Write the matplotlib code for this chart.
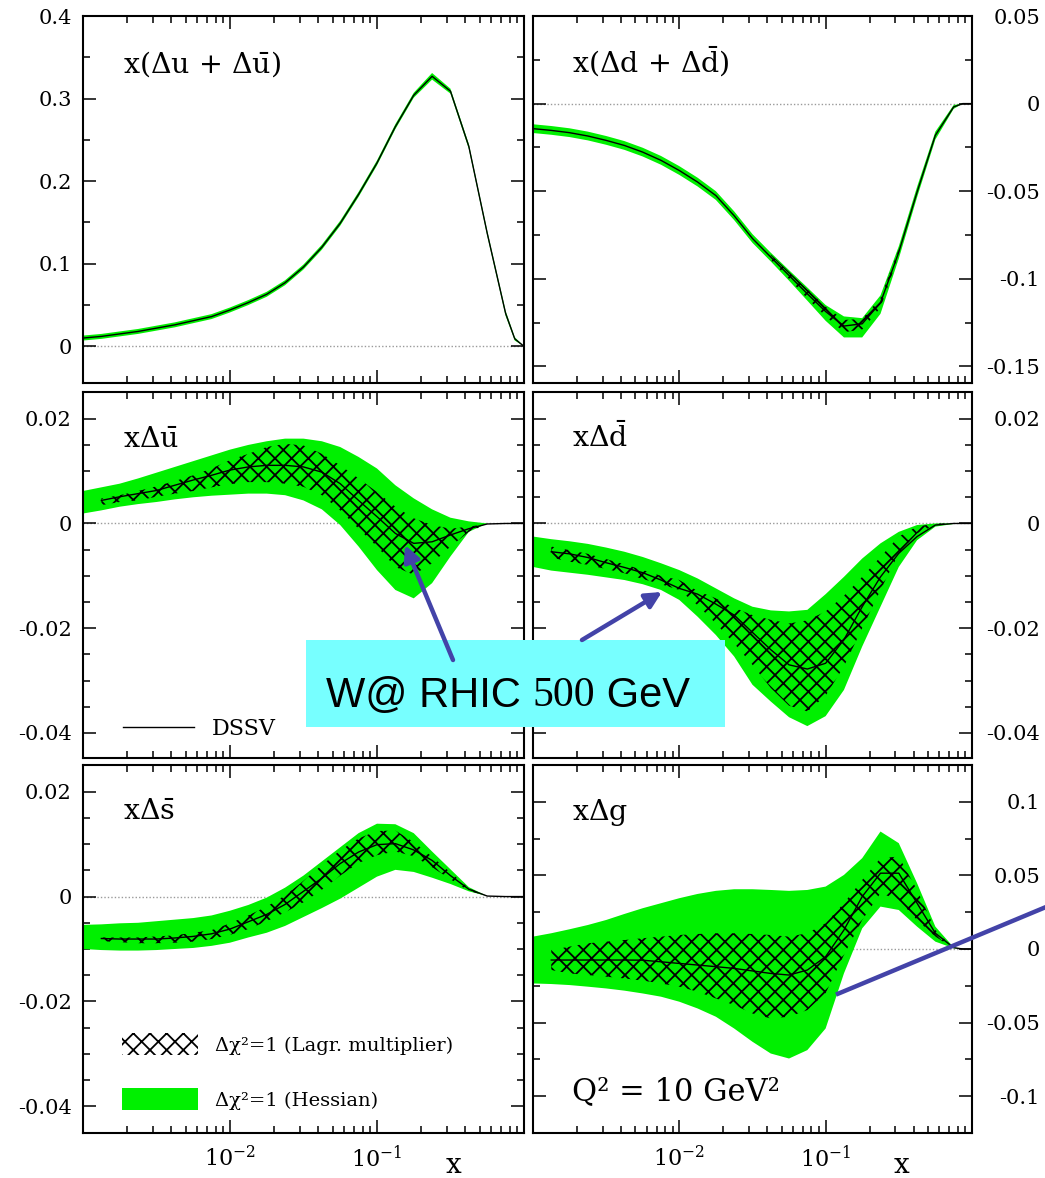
import numpy as np
import matplotlib
matplotlib.use("Agg")
import matplotlib.pyplot as plt
from matplotlib.patches import Patch, Rectangle, FancyArrowPatch
from matplotlib.lines import Line2D
from matplotlib.ticker import LogLocator, NullFormatter

plt.rcParams['font.family'] = ['DejaVu Serif']
plt.rcParams['mathtext.fontset'] = 'custom'
plt.rcParams['mathtext.rm'] = 'DejaVu Serif'
plt.rcParams['mathtext.it'] = 'DejaVu Serif:italic'
plt.rcParams['hatch.linewidth'] = 1.3

nan = np.nan

# x grid shared by all curves (log steps of 1/8 decade)
x_grid = [0.001, 0.001334, 0.001778, 0.002371, 0.003162, 0.004217, 0.005623, 0.007499,
          0.01, 0.01334, 0.01778, 0.02371, 0.03162, 0.04217, 0.05623, 0.07499,
          0.1, 0.1334, 0.1778, 0.2371, 0.3162, 0.4217, 0.5623, 0.7499, 0.8660, 1.0]

# x(Δu + Δū)
uplus_c = [0.010, 0.012, 0.015, 0.018, 0.022, 0.026, 0.031, 0.036, 0.044, 0.053, 0.063, 0.077, 0.096,
           0.120, 0.149, 0.184, 0.222, 0.266, 0.304, 0.327, 0.309, 0.242, 0.137, 0.040, 0.009, 0.0]
uplus_hi = [0.013, 0.015, 0.018, 0.021, 0.025, 0.029, 0.034, 0.039, 0.047, 0.056, 0.066, 0.080, 0.099,
            0.123, 0.152, 0.187, 0.225, 0.269, 0.307, 0.331, 0.312, 0.245, 0.140, 0.043, 0.011, 0.0]
uplus_lo = [0.007, 0.009, 0.012, 0.015, 0.019, 0.023, 0.028, 0.033, 0.041, 0.050, 0.060, 0.074, 0.093,
            0.117, 0.146, 0.181, 0.219, 0.263, 0.301, 0.323, 0.306, 0.239, 0.134, 0.037, 0.007, 0.0]

# x(Δd + Δd̄)
dplus_c = [-0.0143, -0.0153, -0.0166, -0.0185, -0.0210, -0.0239, -0.0277, -0.0324, -0.0382, -0.0448,
           -0.0525, -0.0640, -0.0770, -0.0876, -0.0981, -0.1086, -0.1187, -0.1270, -0.1257, -0.1137,
           -0.0848, -0.0505, -0.0181, -0.0019, 0.0, 0.0]
dplus_hi = [-0.0118, -0.0128, -0.0141, -0.0160, -0.0185, -0.0214, -0.0252, -0.0299, -0.0357, -0.0423,
            -0.0500, -0.0615, -0.0745, -0.0851, -0.0951, -0.1050, -0.1150, -0.1215, -0.1225, -0.1095,
            -0.0815, -0.0475, -0.0160, -0.0008, 0.0, 0.0]
dplus_lo = [-0.0168, -0.0178, -0.0191, -0.0210, -0.0235, -0.0264, -0.0302, -0.0349, -0.0407, -0.0473,
            -0.0550, -0.0665, -0.0795, -0.0901, -0.1011, -0.1125, -0.1240, -0.1335, -0.1335, -0.1200,
            -0.0885, -0.0535, -0.0205, -0.0030, 0.0, 0.0]
dplus_lag_hi = [nan, nan, nan, nan, nan, nan, nan, nan, nan, nan, nan, nan, nan,
                -0.0861, -0.0961, -0.1060, -0.1160, -0.1235, -0.1230, -0.1110, -0.0830,
                nan, nan, nan, nan, nan]
dplus_lag_lo = [nan, nan, nan, nan, nan, nan, nan, nan, nan, nan, nan, nan, nan,
                -0.0891, -0.1001, -0.1112, -0.1214, -0.1305, -0.1290, -0.1165, -0.0865,
                nan, nan, nan, nan, nan]

# xΔū
ubar_c = [nan, 0.0044, 0.0051, 0.0057, 0.0063, 0.0073, 0.0083, 0.0092, 0.0102, 0.0108, 0.0111, 0.0111,
          0.0108, 0.0098, 0.0076, 0.0044, 0.0013, -0.0019, -0.0038, -0.0035, -0.0022, -0.0010,
          -0.0001, 0.0, 0.0, 0.0]
ubar_hess_hi = [0.0062, 0.0069, 0.0076, 0.0086, 0.0097, 0.0108, 0.0119, 0.0130, 0.0141, 0.0150, 0.0157,
                0.0162, 0.0162, 0.0157, 0.0146, 0.0127, 0.0105, 0.0073, 0.0048, 0.0027, 0.0011, 0.0004,
                0.0, 0.0, 0.0, 0.0]
ubar_hess_lo = [0.0019, 0.0025, 0.0032, 0.0037, 0.0041, 0.0046, 0.0050, 0.0053, 0.0055, 0.0057, 0.0057,
                0.0054, 0.0044, 0.0027, -0.0003, -0.0044, -0.0089, -0.0127, -0.0143, -0.0114, -0.0063,
                -0.0016, 0.0, 0.0, 0.0, 0.0]
ubar_lag_hi = [nan, 0.0048, 0.0054, 0.0062, 0.0071, 0.0081, 0.0092, 0.0105, 0.0121, 0.0133, 0.0146,
               0.0152, 0.0149, 0.0133, 0.0111, 0.0086, 0.0060, 0.0032, 0.0010, -0.0003, -0.0010, -0.0006,
               -0.0001, 0.0, 0.0, 0.0]
ubar_lag_lo = [nan, 0.0035, 0.0041, 0.0044, 0.0051, 0.0057, 0.0062, 0.0069, 0.0075, 0.0079, 0.0079,
               0.0076, 0.0070, 0.0054, 0.0025, -0.0010, -0.0044, -0.0083, -0.0098, -0.0076, -0.0044,
               -0.0016, -0.0001, 0.0, 0.0, 0.0]

# xΔd̄
dbar_c = [nan, -0.0054, -0.0058, -0.0065, -0.0075, -0.0084, -0.0094, -0.0108, -0.0124, -0.0135, -0.0154,
          -0.0175, -0.0208, -0.0241, -0.0270, -0.0278, -0.0267, -0.0222, -0.0159, -0.0102, -0.0057,
          -0.0025, -0.0003, 0.0, 0.0, 0.0]
dbar_hess_hi = [-0.0025, -0.0030, -0.0034, -0.0039, -0.0046, -0.0054, -0.0064, -0.0076, -0.0089, -0.0105,
                -0.0124, -0.0143, -0.0159, -0.0166, -0.0168, -0.0165, -0.0135, -0.0102, -0.0067, -0.0038,
                -0.0016, -0.0003, 0.0, 0.0, 0.0, 0.0]
dbar_hess_lo = [-0.0083, -0.0090, -0.0094, -0.0098, -0.0103, -0.0108, -0.0116, -0.0127, -0.0146, -0.0178,
                -0.0213, -0.0254, -0.0308, -0.0340, -0.0370, -0.0387, -0.0368, -0.0318, -0.0235, -0.0159,
                -0.0083, -0.0032, -0.0006, -0.0001, 0.0, 0.0]
dbar_lag_hi = [nan, -0.0044, -0.0051, -0.0058, -0.0068, -0.0078, -0.0089, -0.0100, -0.0108, -0.0129,
               -0.0143, -0.0161, -0.0175, -0.0184, -0.0191, -0.0185, -0.0168, -0.0138, -0.0102, -0.0064,
               -0.0025, -0.0006, 0.0, 0.0, 0.0, 0.0]
dbar_lag_lo = [nan, -0.0065, -0.0073, -0.0079, -0.0087, -0.0095, -0.0106, -0.0116, -0.0127, -0.0156,
               -0.0191, -0.0229, -0.0270, -0.0314, -0.0348, -0.0359, -0.0329, -0.0273, -0.0200, -0.0127,
               -0.0057, -0.0019, -0.0003, 0.0, 0.0, 0.0]

# xΔs̄
sbar_c = [nan, -0.0080, -0.0081, -0.0081, -0.0081, -0.0079, -0.0076, -0.0071, -0.0062, -0.0048, -0.0034,
          -0.0015, 0.0010, 0.0035, 0.0063, 0.0085, 0.0099, 0.0101, 0.0089, 0.0069, 0.0040, 0.0014,
          0.0001, 0.0, 0.0, 0.0]
sbar_hess_hi = [-0.0054, -0.0053, -0.0051, -0.0050, -0.0047, -0.0044, -0.0041, -0.0036, -0.0027, -0.0016,
                -0.0002, 0.0017, 0.0040, 0.0067, 0.0094, 0.0121, 0.0139, 0.0138, 0.0121, 0.0086, 0.0052,
                0.0018, 0.0001, 0.0, 0.0, 0.0]
sbar_hess_lo = [-0.0100, -0.0102, -0.0103, -0.0103, -0.0102, -0.0100, -0.0098, -0.0094, -0.0088, -0.0078,
                -0.0069, -0.0056, -0.0039, -0.0022, -0.0004, 0.0017, 0.0038, 0.0051, 0.0047, 0.0036,
                0.0024, 0.0010, 0.0001, 0.0, 0.0, 0.0]
sbar_lag_hi = [nan, -0.0078, -0.0078, -0.0078, -0.0076, -0.0074, -0.0069, -0.0064, -0.0051, -0.0036,
               -0.0019, 0.0002, 0.0030, 0.0060, 0.0088, 0.0111, 0.0125, 0.0126, 0.0104, 0.0076, 0.0046,
               0.0016, 0.0001, 0.0, 0.0, 0.0]
sbar_lag_lo = [nan, -0.0085, -0.0087, -0.0089, -0.0089, -0.0088, -0.0086, -0.0081, -0.0073, -0.0062,
               -0.0047, -0.0030, -0.0011, 0.0013, 0.0040, 0.0064, 0.0079, 0.0086, 0.0077, 0.0056, 0.0033,
               0.0011, 0.0001, 0.0, 0.0, 0.0]

# xΔg
g_c = [nan, -0.0075, -0.0075, -0.0075, -0.0075, -0.0075, -0.0076, -0.0087, -0.0098, -0.0109, -0.0120,
       -0.0132, -0.0149, -0.0166, -0.0177, -0.0143, -0.0052, 0.0129, 0.0356, 0.0515, 0.0515, 0.0311,
       0.0107, 0.0009, 0.0, 0.0]
g_hess_hi = [0.0084, 0.0107, 0.0134, 0.0163, 0.0197, 0.0238, 0.0277, 0.0311, 0.0345, 0.0374, 0.0395,
             0.0406, 0.0406, 0.0401, 0.0395, 0.0401, 0.0424, 0.0503, 0.0617, 0.0798, 0.0719, 0.0447,
             0.0152, 0.0011, 0.0, 0.0]
g_hess_lo = [-0.0234, -0.0238, -0.0245, -0.0256, -0.0268, -0.0283, -0.0302, -0.0324, -0.0358, -0.0404,
             -0.0460, -0.0540, -0.0630, -0.0710, -0.0744, -0.0687, -0.0540, -0.0166, 0.0140, 0.0288,
             0.0265, 0.0152, 0.0050, 0.0005, 0.0, 0.0]
g_lag_hi = [nan, -0.0007, 0.0016, 0.0039, 0.0050, 0.0061, 0.0073, 0.0084, 0.0095, 0.0102, 0.0107,
            0.0107, 0.0102, 0.0095, 0.0084, 0.0107, 0.0175, 0.0311, 0.0469, 0.0617, 0.0628, 0.0401,
            0.0129, 0.0005, 0.0, 0.0]
g_lag_lo = [nan, -0.0143, -0.0166, -0.0177, -0.0188, -0.0200, -0.0215, -0.0234, -0.0256, -0.0290, -0.0336,
            -0.0381, -0.0438, -0.0472, -0.0460, -0.0415, -0.0300, -0.0040, 0.0197, 0.0379, 0.0333,
            0.0197, 0.0084, 0.0005, 0.0, 0.0]

# axis ticks
big_ticks = [0, 0.1, 0.2, 0.3, 0.4]
big_labels = ['0', '0.1', '0.2', '0.3', '0.4']
big_minor = [0.05, 0.15, 0.25, 0.35]
d_ticks = [-0.15, -0.1, -0.05, 0, 0.05]
d_labels = ['-0.15', '-0.1', '-0.05', '0', '0.05']
d_minor = [-0.125, -0.075, -0.025, 0.025]
sea_ticks = [-0.04, -0.02, 0, 0.02]
sea_labels = ['-0.04', '-0.02', '0', '0.02']
sea_minor = [-0.035, -0.03, -0.025, -0.015, -0.01, -0.005, 0.005, 0.01, 0.015]
g_ticks = [-0.1, -0.05, 0, 0.05, 0.1]
g_labels = ['-0.1', '-0.05', '0', '0.05', '0.1']
g_minor = [-0.075, -0.025, 0.025, 0.075]
x_ticks = [1e-2, 1e-1]
x_labels = [r'$\mathdefault{10^{-2}}$', r'$\mathdefault{10^{-1}}$']

green = '#00f000'

fig = plt.figure(figsize=(10.45, 11.78), dpi=100)

col_x = [0.0794, 0.5100]
col_w = [0.4220, 0.4201]
row_y = [0.6749, 0.3565, 0.0382]
row_h = [0.3115, 0.3107, 0.3124]


def make_axes(row, col, ylim, ticks, labels, minor):
    ax = fig.add_axes([col_x[col], row_y[row], col_w[col], row_h[row]])
    ax.set_xscale('log')
    ax.set_xlim(1e-3, 1)
    ax.set_ylim(*ylim)
    ax.set_xticks(x_ticks)
    ax.xaxis.set_minor_locator(LogLocator(base=10, subs=np.arange(2, 10) * 1.0, numticks=20))
    ax.xaxis.set_minor_formatter(NullFormatter())
    ax.set_yticks(ticks)
    ax.set_yticklabels(labels)
    ax.set_yticks(minor, minor=True)
    ax.tick_params(which='both', direction='in', top=True, bottom=True, left=True, right=True,
                   width=1.1, labelsize=15)
    ax.tick_params(which='major', length=9.5)
    ax.tick_params(which='minor', length=5)
    for sp in ax.spines.values():
        sp.set_linewidth(1.5)
    if row == 2:
        ax.set_xticklabels(x_labels, fontsize=16)
        ax.tick_params(axis='x', pad=9)
        ax.text(0.84, -0.088, 'x', transform=ax.transAxes, ha='center', va='center', fontsize=20)
    else:
        ax.tick_params(axis='x', labelbottom=False)
    if col == 1:
        ax.tick_params(axis='y', labelleft=False, labelright=True, pad=49)
        for t in ax.get_yticklabels():
            t.set_horizontalalignment('right')
    else:
        ax.tick_params(axis='y', pad=8)
    ax.axhline(0, color='#9a9a9a', lw=1.0, ls=(0, (1, 1.5)), zorder=1)
    return ax


def draw_pdf(ax, central, hess_lo, hess_hi, lag_lo=None, lag_hi=None):
    ax.fill_between(x_grid, hess_lo, hess_hi, facecolor=green, edgecolor='none', lw=0, zorder=2)
    if lag_lo is not None:
        ax.fill_between(x_grid, lag_lo, lag_hi, facecolor='none', edgecolor='black',
                        hatch='xx', lw=0, zorder=3)
    ax.plot(x_grid, central, color='black', lw=1.0, zorder=4)


ax_u = make_axes(0, 0, (-0.0444, 0.4), big_ticks, big_labels, big_minor)
draw_pdf(ax_u, uplus_c, uplus_lo, uplus_hi)
ax_u.text(0.09, 0.846, r'x($\Delta$u + $\Delta\bar{\mathrm{u}}$)', transform=ax_u.transAxes,
          fontsize=20.5, va='baseline')

ax_d = make_axes(0, 1, (-0.1595, 0.05), d_ticks, d_labels, d_minor)
draw_pdf(ax_d, dplus_c, dplus_lo, dplus_hi, dplus_lag_lo, dplus_lag_hi)
ax_d.text(0.089, 0.846, r'x($\Delta$d + $\Delta\bar{\mathrm{d}}$)', transform=ax_d.transAxes,
          fontsize=20.5, va='baseline')

ax_ub = make_axes(1, 0, (-0.0448, 0.0251), sea_ticks, sea_labels, sea_minor)
draw_pdf(ax_ub, ubar_c, ubar_hess_lo, ubar_hess_hi, ubar_lag_lo, ubar_lag_hi)
ax_ub.text(0.09, 0.851, r'x$\Delta\bar{\mathrm{u}}$', transform=ax_ub.transAxes, fontsize=20.5,
           va='baseline')
ax_ub.legend(handles=[Line2D([], [], color='black', lw=1.0, label='DSSV')], loc='lower left',
             bbox_to_anchor=(0.09, 0.05), frameon=False, fontsize=16, handlelength=3.2,
             handletextpad=0.8, borderpad=0, borderaxespad=0)

ax_db = make_axes(1, 1, (-0.0448, 0.0251), sea_ticks, sea_labels, sea_minor)
draw_pdf(ax_db, dbar_c, dbar_hess_lo, dbar_hess_hi, dbar_lag_lo, dbar_lag_hi)
ax_db.text(0.089, 0.851, r'x$\Delta\bar{\mathrm{d}}$', transform=ax_db.transAxes, fontsize=20.5,
           va='baseline')

ax_sb = make_axes(2, 0, (-0.0451, 0.0251), sea_ticks, sea_labels, sea_minor)
draw_pdf(ax_sb, sbar_c, sbar_hess_lo, sbar_hess_hi, sbar_lag_lo, sbar_lag_hi)
ax_sb.text(0.09, 0.853, r'x$\Delta\bar{\mathrm{s}}$', transform=ax_sb.transAxes, fontsize=20.5,
           va='baseline')
band_handles = [Patch(facecolor='none', edgecolor='black', hatch='xx', lw=0,
                      label='Δχ²=1 (Lagr. multiplier)'),
                Patch(facecolor=green, edgecolor='none', label='Δχ²=1 (Hessian)')]
ax_sb.legend(handles=band_handles, loc='lower left', bbox_to_anchor=(0.088, 0.0625),
             frameon=False, fontsize=14, handlelength=3.9, handleheight=1.35,
             handletextpad=0.9, labelspacing=1.7, borderpad=0, borderaxespad=0)

ax_g = make_axes(2, 1, (-0.125, 0.125), g_ticks, g_labels, g_minor)
draw_pdf(ax_g, g_c, g_hess_lo, g_hess_hi, g_lag_lo, g_lag_hi)
ax_g.text(0.089, 0.85, r'x$\Delta$g', transform=ax_g.transAxes, fontsize=20.5, va='baseline')
ax_g.text(0.089, 0.09, 'Q² = 10 GeV²', transform=ax_g.transAxes, fontsize=22, va='baseline')

# W production note with arrows pointing at the sea-quark bands
fig.add_artist(Rectangle((0.2928, 0.3829), 0.4010, 0.0738, transform=fig.transFigure,
                         facecolor='#77ffff', edgecolor='none', zorder=10))
renderer = fig.canvas.get_renderer()
x_txt = 0.312
for piece, fam in [('W@ RHIC ', 'Liberation Sans'), ('500', 'Liberation Serif'),
                   (' GeV', 'Liberation Sans')]:
    t = fig.text(x_txt, 0.409, piece, fontsize=30, family=fam, va='center', ha='left', zorder=12)
    bb = t.get_window_extent(renderer)
    x_txt = fig.transFigure.inverted().transform((bb.x1, bb.y0))[0]

arrow_col = '#4343a8'
for tail, head in [((0.4335, 0.4397), (0.3876, 0.5374)), ((0.5569, 0.4567), (0.6335, 0.4975))]:
    fig.add_artist(FancyArrowPatch(tail, head, transform=fig.transFigure, arrowstyle='-|>',
                                   mutation_scale=24, lw=3.2, color=arrow_col, zorder=11,
                                   shrinkA=0, shrinkB=0))
fig.add_artist(Line2D([0.8019, 1.0], [0.1564, 0.2297], transform=fig.transFigure,
                      color=arrow_col, lw=3.2, zorder=11))

fig.savefig('out.png', dpi=100)
